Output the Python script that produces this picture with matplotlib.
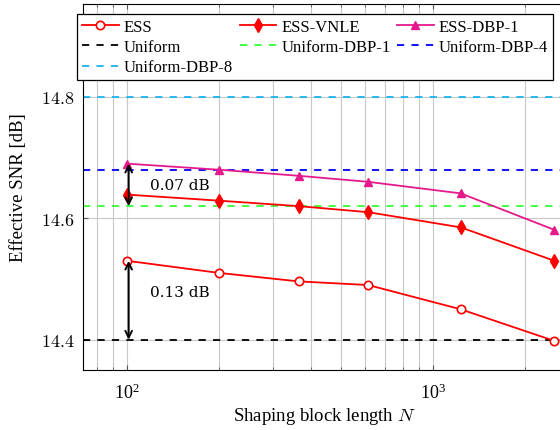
# plot.py
# Effective SNR vs shaping block length

import matplotlib
matplotlib.use('Agg')
import matplotlib.pyplot as plt
from matplotlib.ticker import FuncFormatter, LogLocator, FixedLocator

plt.rcParams['font.family'] = ['Liberation Serif', 'DejaVu Serif']
plt.rcParams['mathtext.fontset'] = 'cm'

# Data
block_len = [100, 200, 364, 615, 1233, 2490]
ess = [14.530, 14.510, 14.496, 14.490, 14.450, 14.398]
ess_vnle = [14.639, 14.629, 14.620, 14.610, 14.585, 14.530]
ess_dbp1 = [14.690, 14.680, 14.670, 14.660, 14.641, 14.581]

uniform = 14.40
uniform_dbp1 = 14.62
uniform_dbp4 = 14.68
uniform_dbp8 = 14.80

gaps = [(14.690, 14.620, '0.07 dB', 14.654), (14.530, 14.400, '0.13 dB', 14.478)]

MAGENTA = '#e6198c'
CYAN = '#19b4f0'

fig = plt.figure(figsize=(5.6, 4.31), dpi=100)
ax = fig.add_axes([83 / 560, 60 / 431, 482 / 560, 366 / 431])

ax.set_xscale('log')
ax.set_xlim(72, 2700)
ax.set_ylim(14.35, 14.953)

xs = [72, 2700]
l_ess, = ax.plot(block_len, ess, color='red', lw=1.3, marker='o', ms=6,
                 mfc='white', mec='red', mew=1.2, label='ESS', zorder=4)
l_vnle, = ax.plot(block_len, ess_vnle, color='red', lw=1.3, marker='d', ms=7,
                  mfc='red', mec='red', label='ESS-VNLE', zorder=4)
l_dbp, = ax.plot(block_len, ess_dbp1, color=MAGENTA, lw=1.3, marker='^', ms=6,
                 mfc=MAGENTA, mec=MAGENTA, label='ESS-DBP-1', zorder=4)
l_u, = ax.plot(xs, [uniform] * 2, color='black', ls=(0, (4, 4)), lw=1.3, label='Uniform')
l_u1, = ax.plot(xs, [uniform_dbp1] * 2, color='#33ff33', ls=(0, (4, 4)), lw=1.3, label='Uniform-DBP-1')
l_u4, = ax.plot(xs, [uniform_dbp4] * 2, color='blue', ls=(0, (4, 4)), lw=1.3, label='Uniform-DBP-4')
l_u8, = ax.plot(xs, [uniform_dbp8] * 2, color=CYAN, ls=(0, (4, 4)), lw=1.3, label='Uniform-DBP-8')

# gap arrows
for top, bottom, text, ty in gaps:
    ax.annotate('', xy=(101.5, bottom), xytext=(101.5, top),
                arrowprops=dict(arrowstyle='<->', color='black', lw=1.4,
                                shrinkA=0, shrinkB=0, mutation_scale=12),
                zorder=5)
    ax.text(119, ty, text, fontsize=11, va='center', ha='left',
            family='DejaVu Serif')

ax.yaxis.set_major_locator(FixedLocator([14.4, 14.6, 14.8]))
ax.yaxis.set_major_formatter(FuncFormatter(lambda v, p: f'${v:.1f}$'))
ax.xaxis.set_major_locator(LogLocator(base=10))
ax.xaxis.set_minor_locator(LogLocator(base=10, subs=range(2, 10)))
ax.grid(True, which='major', color='#c8c8c8', lw=0.8)
ax.grid(True, which='minor', axis='x', color='#c8c8c8', lw=0.8)
ax.set_axisbelow(True)
ax.tick_params(direction='in', which='both', top=True, right=True,
               labelsize=13, color='#555555')
ax.tick_params(axis='x', which='major', pad=9)
ax.tick_params(axis='y', which='major', pad=6)
ax.tick_params(which='minor', length=2)

ax.set_xlabel('Shaping block length $N$', fontsize=13.5, labelpad=2)
ax.set_ylabel('Effective SNR [dB]', fontsize=13.5, labelpad=10)

# column-major order so rows read ESS / Uniform / Uniform-DBP-8
handles = [l_ess, l_u, l_u8, l_vnle, l_u1, l_dbp, l_u4]
leg = fig.legend(handles=handles, loc='upper right', ncol=3,
                 bbox_to_anchor=(553 / 560, 1 - 15 / 431),
                 fontsize=12, frameon=True, fancybox=False, framealpha=1,
                 edgecolor='black', handlelength=2.2, handletextpad=0.3,
                 columnspacing=0.4, labelspacing=0.25, borderpad=0.3,
                 borderaxespad=0)
leg.get_frame().set_linewidth(0.9)

fig.savefig('out.png', dpi=100)
